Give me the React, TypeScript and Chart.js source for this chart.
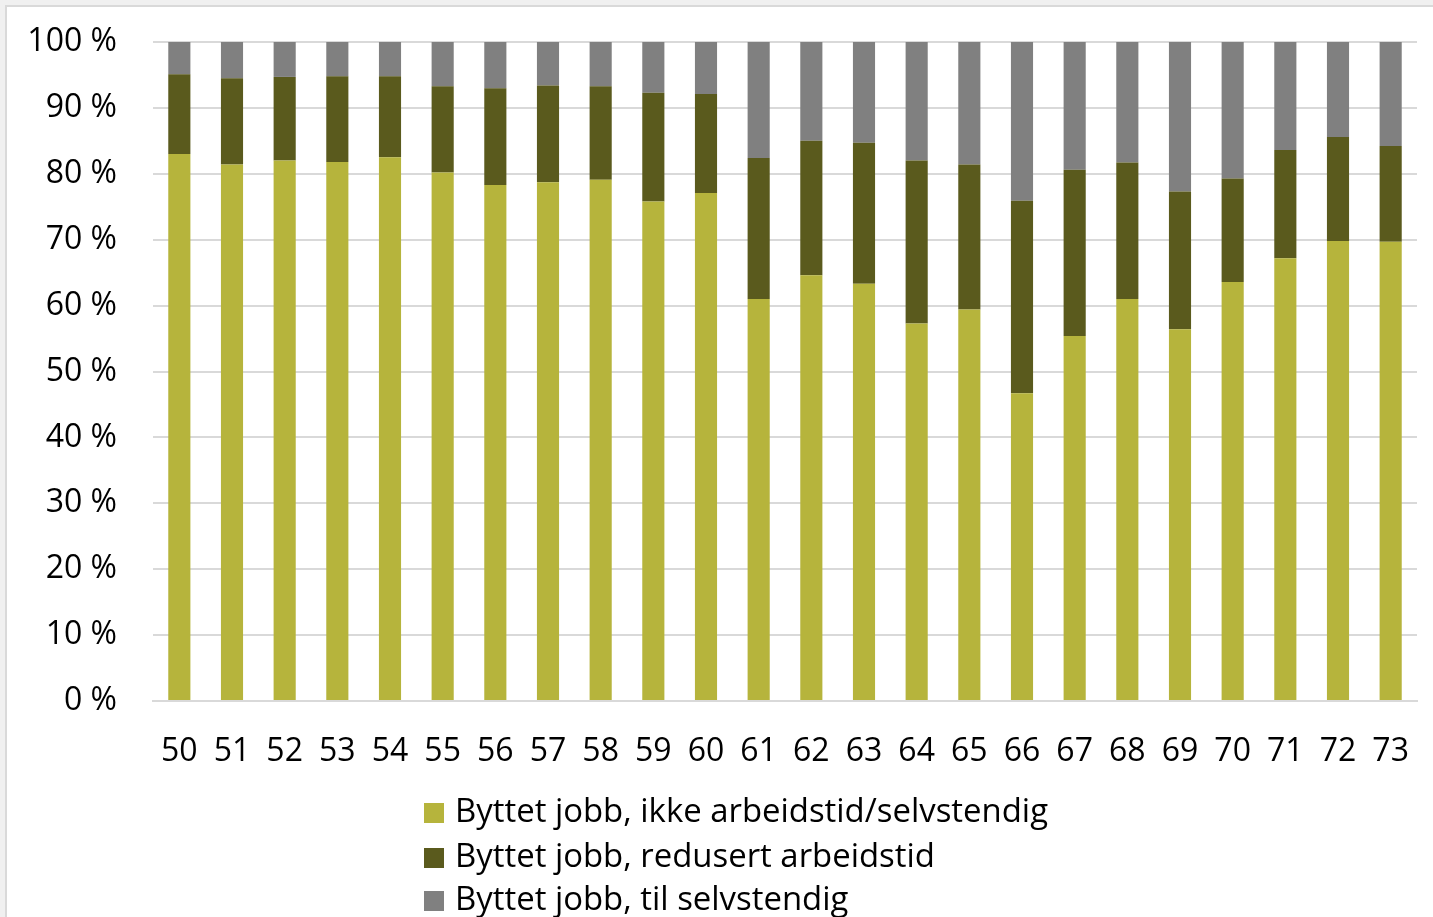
import React, { useEffect, useRef } from "react";
import { Chart, registerables } from "chart.js";

Chart.register(...registerables);

const categories = ["50", "51", "52", "53", "54", "55", "56", "57", "58", "59", "60", "61", "62", "63", "64", "65", "66", "67", "68", "69", "70", "71", "72", "73"];

const ikkeArbeidstid = [83.0, 81.4, 82.0, 81.8, 82.5, 80.2, 78.3, 78.7, 79.1, 75.8, 77.1, 61.0, 64.6, 63.3, 57.3, 59.4, 46.7, 55.4, 61.0, 56.4, 63.6, 67.2, 69.8, 69.7];
const redusertArbeidstid = [12.1, 13.1, 12.7, 13.0, 12.3, 13.1, 14.7, 14.7, 14.2, 16.5, 15.0, 21.4, 20.4, 21.4, 24.7, 22.0, 29.2, 25.2, 20.7, 20.9, 15.7, 16.4, 15.8, 14.5];
const tilSelvstendig = [4.9, 5.5, 5.3, 5.2, 5.2, 6.7, 7.0, 6.6, 6.7, 7.7, 7.9, 17.6, 15.0, 15.3, 18.0, 18.6, 24.1, 19.4, 18.3, 22.7, 20.7, 16.4, 14.4, 15.8];

const seriesLabels = [
  "Byttet jobb, ikke arbeidstid/selvstendig",
  "Byttet jobb, redusert arbeidstid",
  "Byttet jobb, til selvstendig",
];
const seriesColors = ["#B6B43C", "#5A5A1D", "#808080"];

const yTicks = [0, 10, 20, 30, 40, 50, 60, 70, 80, 90, 100];

const FONT = "'Open Sans', 'Noto Sans', sans-serif";

const legendPlugin = {
  id: "customLegend",
  afterDraw(chart: any) {
    const ctx = chart.ctx;
    ctx.save();
    const boxX = 417;
    const textX = 448;
    const rows = [806, 851, 894];
    chart.data.datasets.forEach((ds: any, i: number) => {
      const cy = rows[i];
      ctx.fillStyle = ds.backgroundColor;
      ctx.fillRect(boxX, cy - 10, 20, 20);
      ctx.fillStyle = "#000";
      ctx.font = `32.9px ${FONT}`;
      ctx.textBaseline = "middle";
      ctx.textAlign = "left";
      ctx.fillText(ds.label, textX, cy);
    });
    ctx.restore();
  },
};

export default function App() {
  const ref = useRef<HTMLCanvasElement | null>(null);

  useEffect(() => {
    document.body.style.margin = "0";
    const canvas = ref.current;
    if (!canvas) return;
    const chart = new Chart(canvas, {
      type: "bar",
      data: {
        labels: categories,
        datasets: [
          { label: seriesLabels[0], data: ikkeArbeidstid, backgroundColor: seriesColors[0] },
          { label: seriesLabels[1], data: redusertArbeidstid, backgroundColor: seriesColors[1] },
          { label: seriesLabels[2], data: tilSelvstendig, backgroundColor: seriesColors[2] },
        ],
      },
      options: {
        responsive: false,
        animation: false,
        devicePixelRatio: 1,
        layout: { padding: { top: 35, right: 16, left: 0, bottom: 0 } },
        datasets: {
          bar: { barPercentage: 0.42, categoryPercentage: 1 },
        },
        plugins: {
          legend: { display: false },
          tooltip: { enabled: false },
        },
        scales: {
          x: {
            stacked: true,
            grid: { display: false, drawTicks: false },
            border: { display: true, color: "#d9d9d9", width: 2 },
            ticks: {
              color: "#000",
              font: { family: FONT, size: 32 },
              padding: 32,
              maxRotation: 0,
              autoSkip: false,
            },
            afterFit(scale: any) {
              scale.height = 216;
              scale.paddingLeft = 0;
              scale.paddingRight = 0;
            },
          },
          y: {
            stacked: true,
            min: 0,
            max: 100,
            afterBuildTicks(scale: any) {
              scale.ticks = yTicks.map((v) => ({ value: v }));
            },
            grid: { color: "#d9d9d9", lineWidth: 2, drawTicks: false },
            border: { display: false },
            ticks: {
              color: "#000",
              font: { family: FONT, size: 32 },
              padding: 36,
              callback: (v: any) => `${v} %`,
            },
            afterFit(scale: any) {
              scale.width = 146;
              scale.paddingTop = 0;
              scale.paddingBottom = 0;
            },
          },
        },
      },
      plugins: [legendPlugin],
    });
    return () => chart.destroy();
  }, []);

  return (
    <div style={{ position: "fixed", left: 0, top: 0, width: 1433, height: 917, background: "#f0f0f0", overflow: "hidden" }}>
      <div style={{ position: "absolute", left: 5, top: 5, width: 1430, height: 914, background: "#fff", borderLeft: "2px solid #d9d9d9", borderTop: "2px solid #d9d9d9" }}>
        <canvas ref={ref} width={1426} height={910} style={{ display: "block", width: 1426, height: 910 }} />
      </div>
    </div>
  );
}
